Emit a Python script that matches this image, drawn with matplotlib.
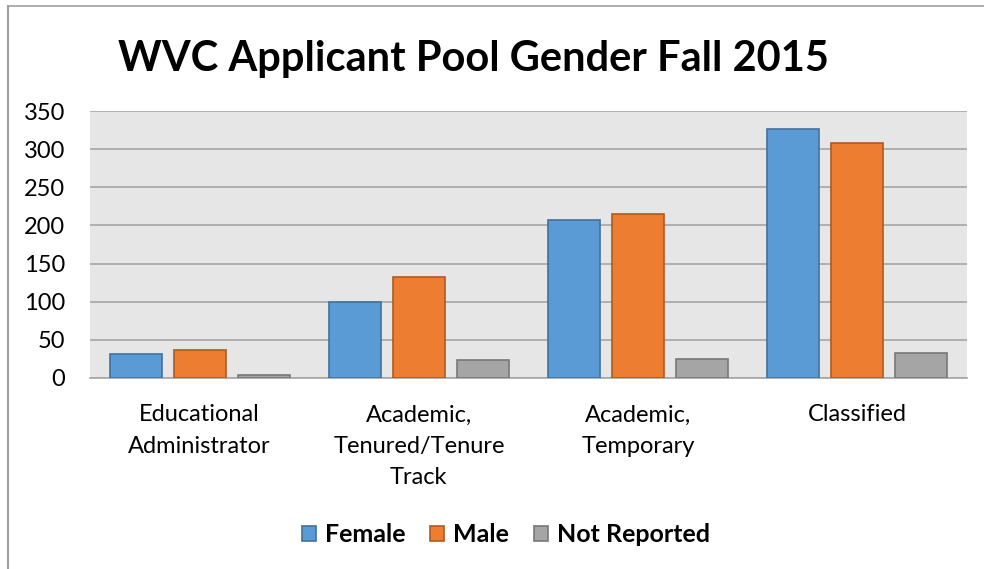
import matplotlib.pyplot as plt
import numpy as np
from matplotlib.lines import Line2D

categories = ["Educational\nAdministrator", "Academic,\nTenured/Tenure\nTrack",
              "Academic,\nTemporary", "Classified"]
female = [32, 99, 207, 327]
male = [37, 132, 215, 308]
not_reported = [4, 23, 25, 33]

series = [("Female", female, "#5B9BD5", "#41719C"),
          ("Male", male, "#ED7D31", "#AE5A21"),
          ("Not Reported", not_reported, "#A5A5A5", "#787878")]

plt.rcParams['font.family'] = ['Lato', 'DejaVu Sans']

fig = plt.figure(figsize=(9.84, 5.69), dpi=100)
ax = fig.add_axes([90 / 984, 1 - 378 / 569, 877 / 984, 267 / 569])

x = np.arange(len(categories))
width = 0.237
step = 0.292
for i, (name, vals, color, edge) in enumerate(series):
    ax.bar(x + (i - 1) * step, vals, width, color=color, edgecolor=edge,
           linewidth=1.2, label=name, zorder=3)

ax.set_xlim(-0.5, len(categories) - 0.5)
ax.set_ylim(0, 350)
ax.set_yticks(range(0, 351, 50))
ax.set_facecolor("#E7E6E6")
ax.grid(axis="y", color="#A6A6A6", linewidth=1.2, zorder=0)
ax.set_axisbelow(True)
for side in ["top", "right", "left"]:
    ax.spines[side].set_visible(False)
ax.spines["bottom"].set_color("#A6A6A6")
ax.spines["bottom"].set_linewidth(1.2)
ax.tick_params(axis="y", length=0, labelsize=17, pad=18)
ax.tick_params(axis="x", length=0, labelsize=17, pad=19)
ax.set_xticks(x)
ax.set_xticklabels(categories, linespacing=1.6)

fig.text(473 / 984, 1 - 59 / 569, "WVC Applicant Pool Gender Fall 2015",
         ha="center", va="center", fontsize=30, fontweight="bold")

fig.legend(loc="center", bbox_to_anchor=(506 / 984, 1 - 535 / 569), ncol=3,
           frameon=False, prop={"weight": "bold", "size": 18},
           handlelength=0.56, handleheight=0.56, handletextpad=0.35, columnspacing=1.0)

# chart frame edges visible in the crop
fig.add_artist(Line2D([8 / 984, 1], [1 - 6 / 569, 1 - 6 / 569], color="#A0A0A0", linewidth=1.2))
fig.add_artist(Line2D([8 / 984, 8 / 984], [0, 1 - 6 / 569], color="#A0A0A0", linewidth=1.5))

fig.savefig("out.png", dpi=100)
